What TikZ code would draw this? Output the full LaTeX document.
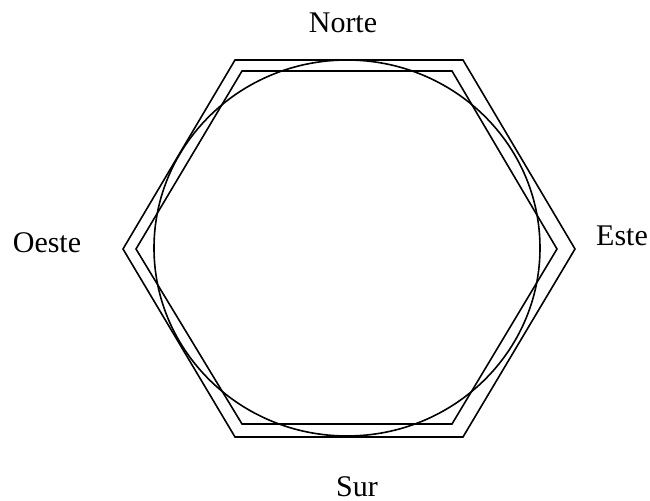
\documentclass[tikz,border=0pt]{standalone}
\usepackage{fontspec}
\setmainfont{Liberation Serif}
\usepackage{tikz}

\begin{document}
\begin{tikzpicture}[x=0.5pt, y=-0.5pt,
    hexline/.style={
        draw,
        line width=0.8pt,
        line join=miter
    },
    point/.style={
        anchor=base,
        inner sep=0pt,
        font=\fontsize{15}{18}\selectfont
    }
]
\useasboundingbox (0,0) rectangle (650,501);
% outer and inner hexagon
\draw[hexline] (123,249) -- (235,60) -- (463,60) -- (575,249) -- (463,437) -- (235,437) -- cycle;
\draw[hexline] (136,249) -- (242,71) -- (452,71) -- (557,249) -- (452,424) -- (242,424) -- cycle;
% circle
\draw[hexline] (347,248) ellipse [x radius=193, y radius=188];
% cardinal points
\node[point] (norte) at (343,33) {Norte};
\node[point] (oeste) at (47,253) {Oeste};
\node[point] (este) at (622,246) {Este};
\node[point] (sur) at (357,497) {Sur};
\end{tikzpicture}
\end{document}
